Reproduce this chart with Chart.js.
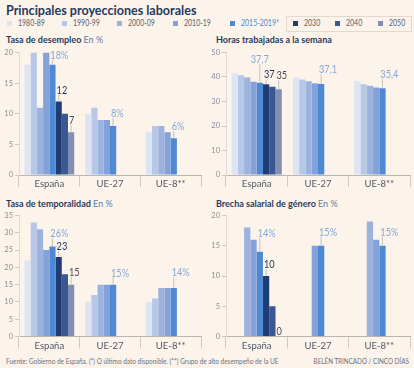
<!DOCTYPE html>
<html>
<head>
<meta charset="utf-8">
<script src="https://cdn.jsdelivr.net/npm/chart.js@4.4.1/dist/chart.umd.min.js"></script>
<style>
  html, body { margin: 0; padding: 0; }
  body { width: 414px; height: 368px; background: #fcf3ea; position: relative; overflow: hidden; font-family: Lato, "Noto Sans", sans-serif; }
  .abs { position: absolute; white-space: nowrap; }
  .cond { display: inline-block; transform-origin: 0 50%; }
  #title { left: 6px; top: 2px; font-size: 13.5px; font-weight: 700; color: #1f3b60; line-height: 16px; }
  .ptitle { font-size: 10px; font-weight: 700; color: #1f3b60; line-height: 12px; }
  .ptitle span { font-weight: 400; color: #5d7ca8; }
  .leg { font-size: 8.5px; color: #5a6270; line-height: 10px; }
  .leg i { display: inline-block; width: 5px; height: 5px; margin-right: 6px; vertical-align: 0px; }
  #legbox { left: 286px; top: 16px; width: 124px; height: 14px; border: 1px solid #e3d9cf; }
  .foot { font-size: 7px; color: #6b717c; line-height: 9px; }
  canvas { position: absolute; }
</style>
</head>
<body>
<div id="title" class="abs"><span class="cond" style="transform:scaleX(0.93)">Principales proyecciones laborales</span></div>
<div id="legbox" class="abs"></div>
<div id="legend"></div>
<div class="abs ptitle" style="left:6px;top:33px"><span class="cond" style="transform:scaleX(0.9);color:#1f3b60;font-weight:700">Tasa de desempleo <span>En %</span></span></div>
<div class="abs ptitle" style="left:216px;top:33px"><span class="cond" style="transform:scaleX(0.9);color:#1f3b60;font-weight:700">Horas trabajadas a la semana</span></div>
<div class="abs ptitle" style="left:6px;top:197px"><span class="cond" style="transform:scaleX(0.9);color:#1f3b60;font-weight:700">Tasa de temporalidad <span>En %</span></span></div>
<div class="abs ptitle" style="left:216px;top:197px"><span class="cond" style="transform:scaleX(0.9);color:#1f3b60;font-weight:700">Brecha salarial de género <span>En %</span></span></div>

<canvas id="c1" width="207" height="150" style="left:0;top:44px"></canvas>
<canvas id="c2" width="207" height="150" style="left:207px;top:44px"></canvas>
<canvas id="c3" width="207" height="150" style="left:0;top:207px"></canvas>
<canvas id="c4" width="207" height="150" style="left:207px;top:207px"></canvas>

<div class="abs foot" style="left:6px;top:357px"><span class="cond" style="transform:scaleX(0.92)">Fuente: Gobierno de España. (*) O último dato disponible. (**) Grupo de alto desempeño de la UE</span></div>
<div class="abs foot" style="right:5px;top:357px"><span class="cond" style="transform:scaleX(0.9);transform-origin:100% 50%">BELÉN TRINCADO / CINCO DÍAS</span></div>

<script>
// Principales proyecciones laborales - four grouped bar panels

const regions = ['España', 'UE-27', 'UE-8**'];
const periods = ['1980-89', '1990-99', '2000-09', '2010-19', '2015-2019*', '2030', '2040', '2050'];

// one row per period, one value per region (null = no bar)
const desempleo = [
    [18, 10, 7],
    [20, 11, 8],
    [11, 9, 8],
    [20, 9, 7],
    [18, 8, 6],
    [12, null, null],
    [10, null, null],
    [7, null, null]
];
const horas = [
    [41.5, 39.9, 38.4],
    [40.7, 39, 37],
    [39.8, 38.3, 36.4],
    [38.1, 37.5, 35.7],
    [37.7, 37.1, 35.4],
    [37, null, null],
    [36, null, null],
    [35, null, null]
];
const temporalidad = [
    [22, 10, 10],
    [33, 12, 11],
    [31, 15, 14],
    [25, 15, 14],
    [26, 15, 14],
    [23, null, null],
    [18, null, null],
    [15, null, null]
];
const brecha = [
    [null, null, null],
    [null, null, null],
    [18, null, 19],
    [16, 15, 16],
    [14, 15, 15],
    [10, null, null],
    [5, null, null],
    [0, null, null]
];

const yTicks1 = { max: 20, step: 5 };
const yTicks2 = { max: 50, step: 10 };
const yTicks3 = { max: 35, step: 5 };
const yTicks4 = { max: 20, step: 5 };

const barColors = ['#dde4f4', '#b7c7e8', '#9db3df', '#84a2d9', '#4d8ad3', '#1f3c74', '#3b5690', '#8190b2'];
const labelColors = { 4: '#86a8d9', 5: '#1f3356', 6: '#1f3356', 7: '#4a4f5a' };

// legend
const legendX = [7, 62, 117, 173, 230, 293, 335, 378];
const legend = document.getElementById('legend');
periods.forEach((p, i) => {
    const el = document.createElement('div');
    el.className = 'abs leg';
    el.style.left = legendX[i] + 'px';
    el.style.top = '18px';
    const color = i === 4 ? '#4d8ad3' : '#5a6270';
    el.innerHTML = `<i style="background:${barColors[i]}"></i><span class="cond" style="transform:scaleX(0.82);color:${color}">${p}</span>`;
    legend.appendChild(el);
});

// value labels with thin leader line above chosen bars
const valueLabels = {
    id: 'valueLabels',
    afterDatasetsDraw(chart, args, opts) {
        const ctx = chart.ctx;
        ctx.save();
        opts.marks.forEach(m => {
            const bar = chart.getDatasetMeta(m.ds).data[m.cat];
            const value = chart.data.datasets[m.ds].data[m.cat];
            if (!bar || value === null) return;
            const text = value.toLocaleString('es-ES') + (m.pct ? '%' : '');
            const top = bar.y;
            const lift = m.lift || 9;
            if (lift > 3) {
                ctx.strokeStyle = '#b9b6b2';
                ctx.lineWidth = 0.8;
                ctx.beginPath();
                ctx.moveTo(bar.x, top);
                ctx.lineTo(bar.x, top - lift + 1);
                ctx.stroke();
            }
            ctx.fillStyle = labelColors[m.ds];
            ctx.font = '11.5px Lato, sans-serif';
            ctx.textBaseline = 'alphabetic';
            const w = ctx.measureText(text).width * 0.8;
            let x = bar.x - bar.width / 2 + 1;
            if (m.align === 'center') x = bar.x - w / 2;
            ctx.translate(x, top - lift);
            ctx.scale(0.8, 1);
            ctx.fillText(text, 0, 0);
            ctx.setTransform(1, 0, 0, 1, 0, 0);
        });
        ctx.restore();
    }
};

function createPanel(canvasId, rows, yt, marks, padRight, xHeight) {
    const ctx = document.getElementById(canvasId).getContext('2d');
    const datasets = rows.map((row, i) => ({
        label: periods[i],
        data: row,
        backgroundColor: barColors[i],
        borderWidth: 0,
        barPercentage: 1.0,
        categoryPercentage: 0.82
    }));
    return new Chart(ctx, {
        type: 'bar',
        data: { labels: regions, datasets: datasets },
        plugins: [valueLabels],
        options: {
            responsive: false,
            animation: false,
            layout: { padding: { top: 8.5, right: padRight, left: 0, bottom: 0 } },
            plugins: {
                legend: { display: false },
                tooltip: { enabled: false },
                valueLabels: { marks: marks }
            },
            scales: {
                x: {
                    grid: { drawOnChartArea: false, drawTicks: true, tickLength: 12, offset: true, color: '#cfcac4' },
                    border: { display: true, color: '#b9b5b0', width: 1 },
                    ticks: { color: '#4f5866', font: { family: 'Lato', size: 9.5 }, padding: -8.5 },
                    afterFit: (scale) => { scale.height = xHeight; }
                },
                y: {
                    min: 0,
                    max: yt.max,
                    ticks: { stepSize: yt.step, color: '#8b9099', font: { family: 'Lato', size: 7.5 }, padding: 2 },
                    grid: { drawOnChartArea: false, drawTicks: true, tickLength: 4, color: '#cbc7c2' },
                    border: { display: true, color: '#e0dbd5', width: 1 },
                    afterFit: (scale) => { scale.width = 19; }
                }
            }
        }
    });
}

createPanel('c1', desempleo, yTicks1, [
    { ds: 4, cat: 0, pct: true, lift: 6 },
    { ds: 5, cat: 0, lift: 8 },
    { ds: 7, cat: 0, lift: 8 },
    { ds: 4, cat: 1, pct: true, lift: 9 },
    { ds: 4, cat: 2, pct: true, lift: 8 }
], 6, 19);

createPanel('c2', horas, yTicks2, [
    { ds: 4, cat: 0, lift: 20, align: 'center' },
    { ds: 5, cat: 0, lift: 6 },
    { ds: 7, cat: 0, lift: 10 },
    { ds: 4, cat: 1, lift: 11 },
    { ds: 4, cat: 2, lift: 10 }
], 4, 19);

createPanel('c3', temporalidad, yTicks3, [
    { ds: 4, cat: 0, pct: true, lift: 10 },
    { ds: 5, cat: 0, lift: 7 },
    { ds: 7, cat: 0, lift: 9 },
    { ds: 4, cat: 1, pct: true, lift: 8 },
    { ds: 4, cat: 2, pct: true, lift: 12 }
], 6, 20.5);

createPanel('c4', brecha, yTicks4, [
    { ds: 4, cat: 0, pct: true, lift: 15 },
    { ds: 5, cat: 0, lift: 8 },
    { ds: 7, cat: 0, lift: 2 },
    { ds: 4, cat: 1, pct: true, lift: 10 },
    { ds: 4, cat: 2, pct: true, lift: 10 }
], 4, 20.5);
</script>
</body>
</html>
